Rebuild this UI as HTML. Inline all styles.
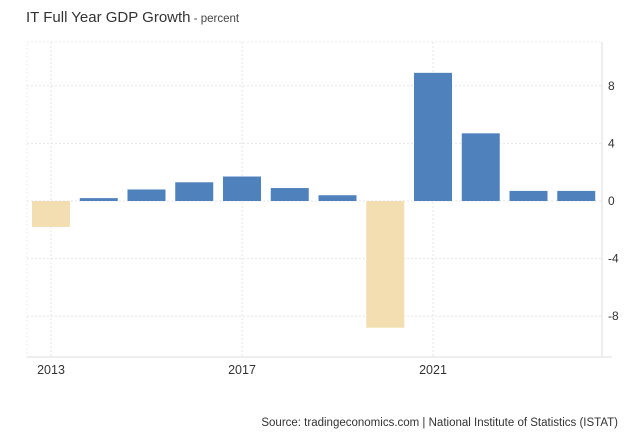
<!DOCTYPE html>
<html><head><meta charset="utf-8"><style>
body{margin:0;background:#fff;font-family:"Liberation Sans",sans-serif}
svg{display:block}
</style></head><body>
<svg width="640" height="437">
<text x="26" y="22" font-size="15" fill="#333">IT Full Year GDP Growth<tspan font-size="11.5" fill="#444"> - percent</tspan></text>
<g id="grid"></g>
<g id="bars"></g>
<g id="axes"></g>
<text x="618" y="426" font-size="11.5" fill="#333" text-anchor="end">Source: tradingeconomics.com | National Institute of Statistics (ISTAT)</text>
</svg>
<script>
const years=[2013,2014,2015,2016,2017,2018,2019,2020,2021,2022,2023,2024];
const values=[-1.8,0.2,0.8,1.3,1.7,0.9,0.4,-8.8,8.9,4.7,0.7,0.7];
const yTicks=[8,4,0,-4,-8];
const xTicks=[2013,2017,2021];
const NS="http://www.w3.org/2000/svg";
const L=27,R=602,T=42,B=357;
const x=y=>51+(y-2013)*47.75;
const yv=v=>201-v*14.4;
function mk(t,a,p){const e=document.createElementNS(NS,t);for(const k in a)e.setAttribute(k,a[k]);p.appendChild(e);return e;}
const g=document.getElementById('grid'),b=document.getElementById('bars'),ax=document.getElementById('axes');
mk('rect',{x:L,y:T,width:R-L,height:B-T,fill:'none',stroke:'#eee','stroke-dasharray':'2,2'},g);
yTicks.forEach(v=>{
 const l=mk('line',{x1:L,x2:R,y1:yv(v),y2:yv(v),stroke:'#e6e6e6','stroke-dasharray':'2,2'},g);
 
 
 const t=mk('text',{x:608,y:yv(v)+4,'font-size':12,fill:'#333'},ax);t.textContent=v;
 
 
});
xTicks.forEach(v=>{
 const l=mk('line',{x1:x(v),x2:x(v),y1:T,y2:B,stroke:'#e6e6e6','stroke-dasharray':'2,2'},g);
 
 
 const t=mk('text',{x:x(v),y:374,'font-size':12.5,fill:'#333','text-anchor':'middle'},ax);t.textContent=v;
 
 
});
mk('line',{x1:R,x2:R,y1:T,y2:B,stroke:'#ddd'},ax);
mk('line',{x1:L,x2:612,y1:B,y2:B,stroke:'#ddd'},ax);
years.forEach((yr,i)=>{
 const v=values[i];
 const r=mk('rect',{x:x(yr)-19,width:38,y:Math.min(yv(v),yv(0)),height:Math.abs(yv(v)-yv(0)),fill:v<0?'#f3deb1':'#4f81bd'},b);
 
 
});
</script>
</body></html>
